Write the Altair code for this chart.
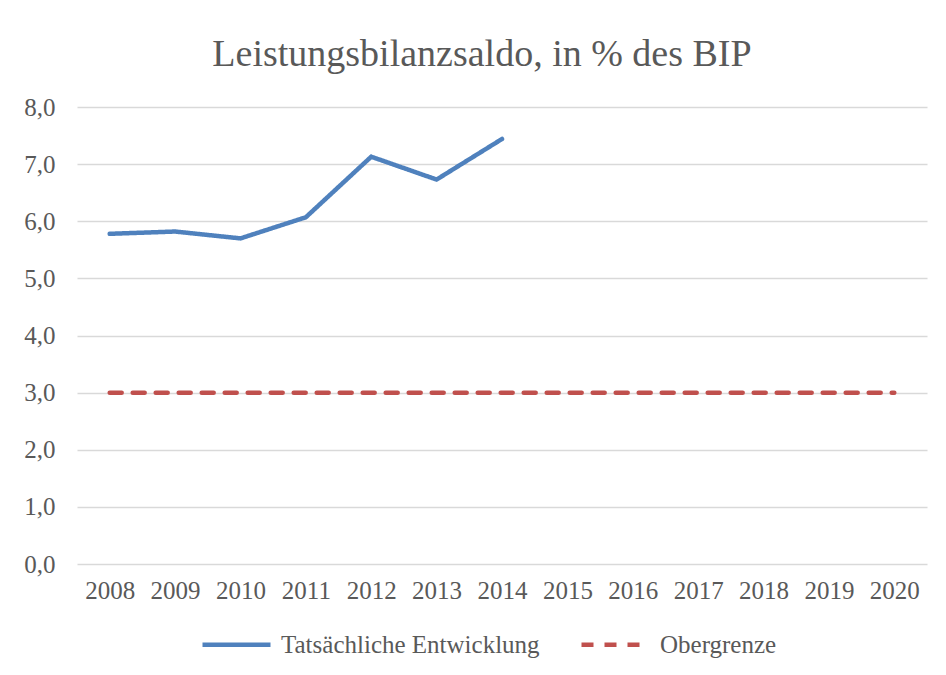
import altair as alt
import pandas as pd

years = [str(y) for y in range(2008, 2021)]
actual_years = years[:7]
actual_values = [5.78, 5.82, 5.70, 6.07, 7.13, 6.73, 7.44]
cap_values = [3.0] * 13
series_names = ["Tatsächliche Entwicklung", "Obergrenze"]
y_ticks = [0, 1, 2, 3, 4, 5, 6, 7, 8]

rows = []
for y, v in zip(actual_years, actual_values):
    rows.append({"Jahr": y, "Wert": v, "Reihe": series_names[0]})
for y, v in zip(years, cap_values):
    rows.append({"Jahr": y, "Wert": v, "Reihe": series_names[1]})
df = pd.DataFrame(rows)

FONT = "Liberation Serif"
GREY = "#595959"

legend_kw = dict(title=None, orient="none", legendX=123, legendY=501,
                 direction="horizontal", symbolType="stroke",
                 symbolSize=4624, symbolStrokeWidth=4.5,
                 labelFontSize=25, labelFont=FONT, labelColor=GREY,
                 labelLimit=500, columnPadding=32, labelOffset=8)

chart = alt.Chart(df).mark_line(strokeWidth=4.5, strokeCap="round").encode(
    x=alt.X("Jahr:O", sort=years, scale=alt.Scale(domain=years),
            axis=alt.Axis(title=None, labelAngle=0, domain=False, ticks=False, grid=False,
                          labelPadding=14, labelFontSize=25, labelColor=GREY,
                          labelFont=FONT)),
    y=alt.Y("Wert:Q", scale=alt.Scale(domain=[0, 8], nice=False),
            axis=alt.Axis(title=None, values=y_ticks, domain=False, ticks=False,
                          labelExpr="replace(format(datum.value, '.1f'), '.', ',')",
                          labelPadding=22, labelFontSize=25, labelColor=GREY,
                          labelFont=FONT, gridColor="#d9d9d9", gridWidth=1.5)),
    color=alt.Color("Reihe:N", scale=alt.Scale(domain=series_names, range=["#4f81bd", "#c0504d"]),
                    legend=alt.Legend(**legend_kw)),
    strokeDash=alt.StrokeDash("Reihe:N", scale=alt.Scale(domain=series_names, range=[[1, 0], [12, 11]]),
                              legend=alt.Legend(**legend_kw)),
    order=alt.Order("Jahr:O"),
).properties(
    width=850, height=457,
    title=alt.Title("Leistungsbilanzsaldo, in % des BIP", fontSize=38, font=FONT,
                    color=GREY, fontWeight="normal", anchor="middle", offset=21, dx=-20),
    autosize=alt.AutoSizeParams(type="none"),
    padding={"left": 69, "top": 99, "right": 10, "bottom": 104},
).configure(background="white").configure_view(stroke=None)

chart.save("out.html", embed_options={"renderer": "svg", "actions": False})
